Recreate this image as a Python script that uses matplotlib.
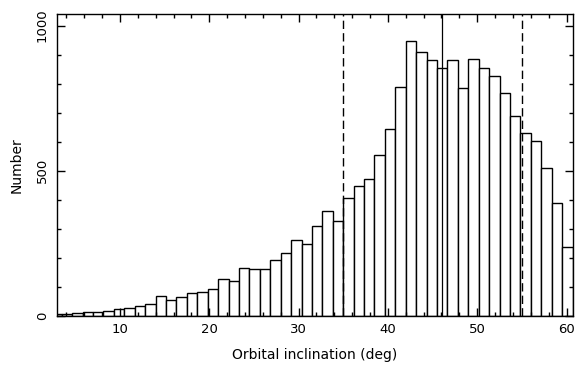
import numpy as np
import matplotlib
matplotlib.use("Agg")
import matplotlib.pyplot as plt
from matplotlib.ticker import MultipleLocator

# Histogram data
bin_start = 2.32
bin_width = 1.167
counts = [8, 8, 10, 13, 15, 18, 25, 29, 35, 40,
          68, 54, 64, 78, 82, 92, 126, 122, 166, 161,
          161, 192, 217, 261, 247, 310, 360, 328, 406, 449,
          471, 556, 645, 787, 947, 908, 881, 855, 880, 786,
          885, 853, 826, 768, 689, 629, 602, 511, 390, 238]
dashed_lines = [35.0, 55.0]
solid_lines = [46.1]
x_ticks = [10, 20, 30, 40, 50, 60]
y_ticks = [0, 500, 1000]
xlim = (2.95, 60.67)
ylim = (0, 1040)

plt.rcParams['font.family'] = ['DejaVu Sans']
fig = plt.figure(figsize=(5.79, 3.73), dpi=100)
ax = fig.add_axes([0.0984, 0.1528, 0.8904, 0.8097])

lefts = bin_start + bin_width * np.arange(len(counts))
ax.bar(lefts, counts, width=bin_width, align='edge', facecolor='white',
       edgecolor='black', linewidth=1.0)

for xv in dashed_lines:
    ax.axvline(xv, color='black', linewidth=1.0, linestyle=(0, (6, 3)))
for xv in solid_lines:
    ax.axvline(xv, color='black', linewidth=0.9)

ax.set_xlim(*xlim)
ax.set_ylim(*ylim)
ax.set_xticks(x_ticks)
ax.set_yticks(y_ticks)
ax.xaxis.set_minor_locator(MultipleLocator(2))
ax.yaxis.set_minor_locator(MultipleLocator(100))
ax.tick_params(which='both', direction='in', top=True, right=True,
               width=1.0, labelsize=9.5, colors='black')
ax.tick_params(which='major', length=5.5)
ax.tick_params(which='minor', length=2.8)
ax.tick_params(axis='x', pad=5)
ax.tick_params(axis='y', pad=6)
for lab in ax.get_yticklabels():
    lab.set_rotation(90)
    lab.set_va('center')
    lab.set_ha('right')
for s in ax.spines.values():
    s.set_linewidth(1.0)

ax.set_xlabel('Orbital inclination (deg)', fontsize=10, labelpad=9)
ax.set_ylabel('Number', fontsize=10, labelpad=9)

fig.savefig('out.png', dpi=100)
